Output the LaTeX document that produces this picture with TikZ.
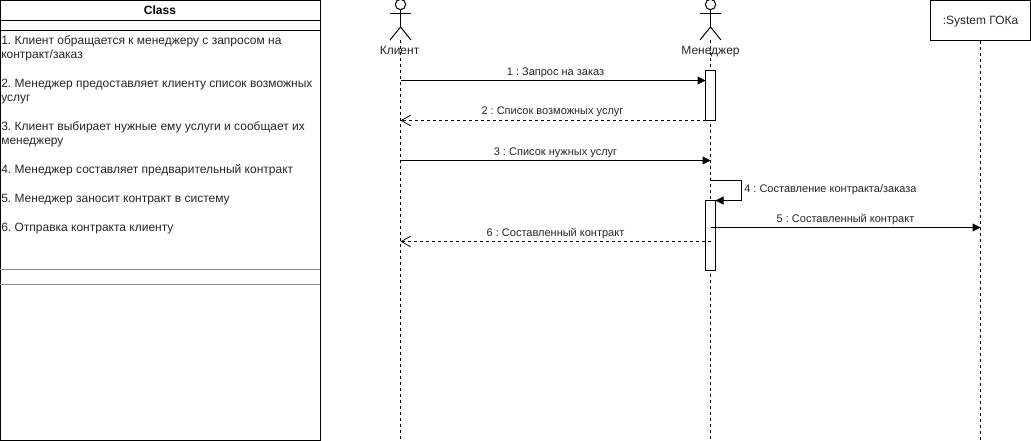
\documentclass[tikz,border=0pt]{standalone}
\usepackage{fontspec}
\setmainfont{Liberation Sans}
\usetikzlibrary{arrows.meta}
\frenchspacing
\tikzset{
  px/.style={x=0.75pt,y=-0.75pt},
  shapeline/.style={draw=black,line width=0.75pt},
  lifeline/.style={draw=black,line width=0.75pt,dash pattern=on 2.25pt off 2.25pt},
  activation/.style={draw=black,fill=white,line width=0.75pt,minimum width=7.5pt,inner sep=0pt,outer sep=0pt},
  syncmsg/.style={draw=black,line width=0.75pt,-{Triangle[length=6pt,width=6pt]}},
  retmsg/.style={draw=black,line width=0.75pt,dash pattern=on 2.25pt off 2.25pt,-{Straight Barb[length=7pt,width=8pt,line width=0.6pt]}},
  msglabel/.style={font=\fontsize{8.25pt}{10pt}\selectfont,text=black!85,inner sep=0pt,anchor=base},
  classtext/.style={font=\fontsize{9pt}{10.5pt}\selectfont,text=black!85,inner sep=0pt,anchor=base west,align=left},
  actorlabel/.style={font=\fontsize{9pt}{10.5pt}\selectfont,text=black!85,inner sep=0pt,anchor=base}
}
\begin{document}
\begin{tikzpicture}[px]
\useasboundingbox (0,0) rectangle (1031,441);
% class box
\draw[shapeline] (0.5,0.5) rectangle (320.5,440.5);
\draw[shapeline] (0,20.5) -- (320.5,20.5);
\draw[shapeline] (0,30.5) -- (320.5,30.5);
\draw[draw=black!45,line width=0.75pt] (0,269.5) -- (320,269.5);
\draw[draw=black!45,line width=0.75pt] (0,284.5) -- (320,284.5);
\node[font=\fontsize{9pt}{10.5pt}\selectfont\bfseries,inner sep=0pt,anchor=base] (classtitle) at (160,14.5) {Class};
\node[classtext] (s1) at (1,58.5) {1. Клиент обращается к менеджеру с запросом на\\контракт/заказ};
\node[classtext] (s2) at (1,101.5) {2. Менеджер предоставляет клиенту список возможных\\услуг};
\node[classtext] (s3) at (1,145) {3. Клиент выбирает нужные ему услуги и сообщает их\\менеджеру};
\node[classtext] (s4) at (1,174) {4. Менеджер составляет предварительный контракт};
\node[classtext] (s5) at (1,203) {5. Менеджер заносит контракт в систему};
\node[classtext] (s6) at (1,232) {6. Отправка контракта клиенту};
% lifeline anchors
\coordinate (kTop) at (400.5,40);
\coordinate (kEnd) at (400.5,440);
\coordinate (mTop) at (710.5,40);
\coordinate (mEnd) at (710.5,440);
% system
\node[draw=black,line width=0.75pt,minimum width=75pt,minimum height=30pt,inner sep=0pt,text=black!85] (sys) at (980.5,20.5) {};
\node[actorlabel] (systext) at (980.5,24.5) {:System ГОКа};
\coordinate (sEnd) at (980.5,440);
% lifelines
\draw[lifeline] (kTop) -- (kEnd);
\draw[lifeline] (mTop) -- (mEnd);
\draw[lifeline] (sys.south) -- (sEnd);
% actors
\foreach \cx in {400.5,710.5}{
  \draw[shapeline] (\cx,4.5) circle[radius=3.9pt];
  \draw[shapeline] (\cx,9.8) -- (\cx,27);
  \draw[shapeline] (\cx-10.5,14) -- (\cx+10.5,14);
  \draw[shapeline] (\cx-10.5,40) -- (\cx,27) -- (\cx+10.5,40);
}
\node[actorlabel] (klient) at (399.5,54.5) {Клиент};
\node[actorlabel] (manager) at (710.5,54.5) {Менеджер};
% activations
\node[activation,minimum height=37.5pt] (a1) at (710.5,95.5) {};
\node[activation,minimum height=52.5pt] (a2) at (710.5,235.5) {};
% message coordinates
\coordinate (k1) at (400.5,80.5);
\coordinate (k2) at (400.5,120.5);
\coordinate (k3) at (400.5,160.5);
\coordinate (m3) at (710.5,160.5);
\coordinate (m4a) at (710.5,180.5);
\coordinate (m4b) at (741,180.5);
\coordinate (m4c) at (741,200.5);
\coordinate (m5) at (710.5,227.5);
\coordinate (s5e) at (980.5,227.5);
\coordinate (m6) at (710.5,241.5);
\coordinate (k6) at (400.5,241.5);
% messages
\draw[syncmsg] (k1) -- (a1.west |- k1);
\draw[retmsg] (a1.south west) -- (k2);
\draw[syncmsg] (k3) -- (m3);
\draw[syncmsg] (m4a) -- (m4b) -- (m4c) -- (a2.north east);
\draw[syncmsg] (m5) -- (s5e);
\draw[retmsg] (m6) -- (k6);
% labels
\node[msglabel] (l1) at (555.5,75.5) {1 : Запрос на заказ};
\node[msglabel] (l2) at (552.5,114.5) {2 : Список возможных услуг};
\node[msglabel] (l3) at (555.5,155.5) {3 : Список нужных услуг};
\node[msglabel,anchor=base west] (l4) at (744,192.5) {4 : Составление контракта/заказа};
\node[msglabel] (l5) at (845.5,222.5) {5 : Составленный контракт};
\node[msglabel] (l6) at (555.5,236.5) {6 : Составленный контракт};
\end{tikzpicture}
\end{document}
